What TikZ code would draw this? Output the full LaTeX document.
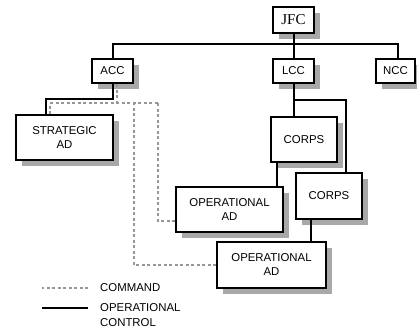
\documentclass[tikz,border=0pt]{standalone}
\usepackage{fontspec}
\setmainfont{Liberation Sans}
\newfontfamily\jfcfont{Liberation Serif}
\usepackage{tikz}
\usetikzlibrary{positioning}
\definecolor{shadowgray}{RGB}{168,168,168}
\definecolor{cmdgray}{RGB}{150,150,150}
\tikzstyle{unitbox}=[draw, line width=2pt, fill=white, align=center, inner sep=0pt,
  font=\fontsize{11.4}{14}\selectfont]
\newcommand{\unitbox}{\node[unitbox]}
\tikzstyle{boxshadow}=[fill=shadowgray, draw=none]
\tikzstyle{opcon}=[line width=2pt]
\tikzstyle{cmd}=[line width=1.6pt, cmdgray, dash pattern=on 3pt off 2.5pt]
\tikzstyle{legend}=[inner sep=0pt, align=left, font=\fontsize{11.4}{15}\selectfont]

\begin{document}
\begin{tikzpicture}[x=1pt, y=-1pt]
            \useasboundingbox (0,0) rectangle (417,329);
            % shadows first, boxes over them
            \foreach \cx/\cy/\w/\h in {293.5/20/41/26, 112.5/71/41/24, 293.5/71/41/24, 395.5/71/39/24,
                64.5/137.5/97/45, 304/139.5/66/45, 329/196/66/46, 229.5/209.5/107/45, 271.5/265/109/46}
              \fill[boxshadow] (\cx-\w/2+6, \cy-\h/2+6) rectangle (\cx+\w/2+6, \cy+\h/2+6);
            \unitbox (jfc) at (293.5,20) [minimum width=41pt, minimum height=26pt, font=\jfcfont\fontsize{15}{15}\selectfont]{JFC};
            \unitbox (acc) at (112.5,71) [minimum width=41pt, minimum height=24pt]{ACC};
            \unitbox (lcc) at (293.5,71) [minimum width=41pt, minimum height=24pt]{LCC};
            \unitbox (ncc) at (395.5,71) [minimum width=39pt, minimum height=24pt]{NCC};
            \unitbox (sad) at (64.5,137.5) [minimum width=97pt, minimum height=45pt]{STRATEGIC\\AD};
            \unitbox (corps1) at (304,139.5) [minimum width=66pt, minimum height=45pt]{CORPS};
            \unitbox (corps2) at (329,196) [minimum width=66pt, minimum height=46pt]{CORPS};
            \unitbox (opad1) at (229.5,209.5) [minimum width=107pt, minimum height=45pt]{OPERATIONAL\\AD};
            \unitbox (opad2) at (271.5,265) [minimum width=109pt, minimum height=46pt]{OPERATIONAL\\AD};
            \coordinate (bus) at (112.5,44);
            \coordinate (lccfork) at (293.5,100);
            \coordinate (cmdfork) at (117,103);
            \coordinate (cmd1) at (158,103);
            \coordinate (cmd2) at (134,103);
            % operational control
            \draw[opcon] (jfc.south) -- (jfc.south |- bus);
            \draw[opcon] (acc.north) -- (bus) -| ([xshift=2.5pt]ncc.north);
            \draw[opcon] (lcc.north) -- (lcc.north |- bus);
            \draw[opcon] (acc.south) -- ++(0,15) -| ([xshift=-18.5pt]sad.north);
            \draw[opcon] (lcc.south) -- (lcc.south |- corps1.north);
            \draw[opcon] (lccfork) -| ([xshift=17pt]corps2.north);
            \draw[opcon] ([xshift=-27pt]corps1.south) -- ([xshift=-27pt]corps1.south |- opad1.north);
            \draw[opcon] ([xshift=-18pt]corps2.south) -- ([xshift=-18pt]corps2.south |- opad2.north);
            % command
            \draw[cmd] ([xshift=4.5pt]acc.south) -- (cmdfork);
            \draw[cmd] ([xshift=-14.5pt]sad.north) |- (cmd1);
            \draw[cmd] ([yshift=-11.5pt]opad1.west) -| (cmd1);
            \draw[cmd] (opad2.west) -| (cmd2);
            % legend
            \node[legend, anchor=west] (cmdtxt) at (100,288) {COMMAND};
            \node[legend, anchor=west] (opctxt) at (100,315.5) {OPERATIONAL\\CONTROL};
            \draw[cmd] ([xshift=-12pt]cmdtxt.west) -- ++(-46,0);
            \draw[opcon] ([xshift=-12pt, yshift=7.5pt]opctxt.west) -- ++(-46,0);
        \end{tikzpicture}
\end{document}
